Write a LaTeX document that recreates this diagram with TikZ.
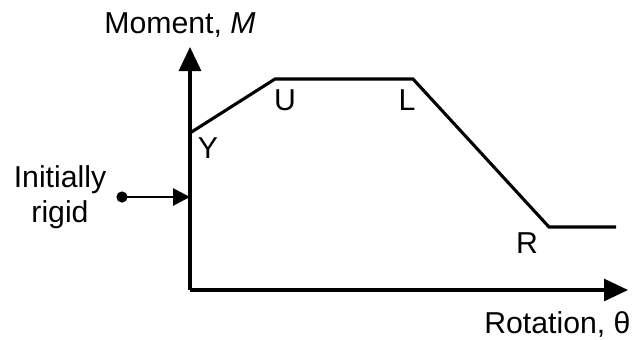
\documentclass[tikz,border=0pt]{standalone}
\usepackage{fontspec}
\setmainfont{Liberation Sans}
\usetikzlibrary{arrows.meta}
\tikzset{lbl/.style={font=\fontsize{21.5}{25}\selectfont, inner sep=0pt},
axis/.style={line width=2.2pt, -{Triangle[length=0.6cm,width=0.55cm]}},
curve/.style={line width=2.2pt, line join=miter}}
\begin{document}
\begin{tikzpicture}
\useasboundingbox (-4.75,-1.225) rectangle (11.075,7.25);
\coordinate (O) at (0,0);\coordinate (Mtip) at (0,6.075);\coordinate (Ttip) at (10.95,0);
\coordinate (Y) at (0,3.925);\coordinate (U) at (2.125,5.275);\coordinate (L) at (5.575,5.275);\coordinate (R) at (8.975,1.575);\coordinate (E) at (10.65,1.575);
\draw[axis] (O) -- (Mtip);\draw[axis] (O) -- (Ttip);
\draw[curve] (Y) -- (U) -- (L) -- (R) -- (E);
\node[lbl] (mlab) at (-0.25,6.625) {Moment, \textit{M}};\node[lbl, anchor=east] (tlab) at (11.02,-0.86) {Rotation, θ};
\node[lbl] (ylab) at (0.45,3.55) {Y};\node[lbl] (ulab) at (2.375,4.75) {U};\node[lbl] (llab) at (5.425,4.75) {L};\node[lbl] (rlab) at (8.425,1.175) {R};
\node[lbl, align=center] (rigid) at (-3.25,2.31) {Initially\\rigid};
\fill (-1.7,2.325) circle (0.14) coordinate (dot);\coordinate (hit) at (0,2.325);
\draw[line width=2pt, -{Triangle[length=0.42cm,width=0.42cm]}] (dot) -- (hit);
\end{tikzpicture}
\end{document}
